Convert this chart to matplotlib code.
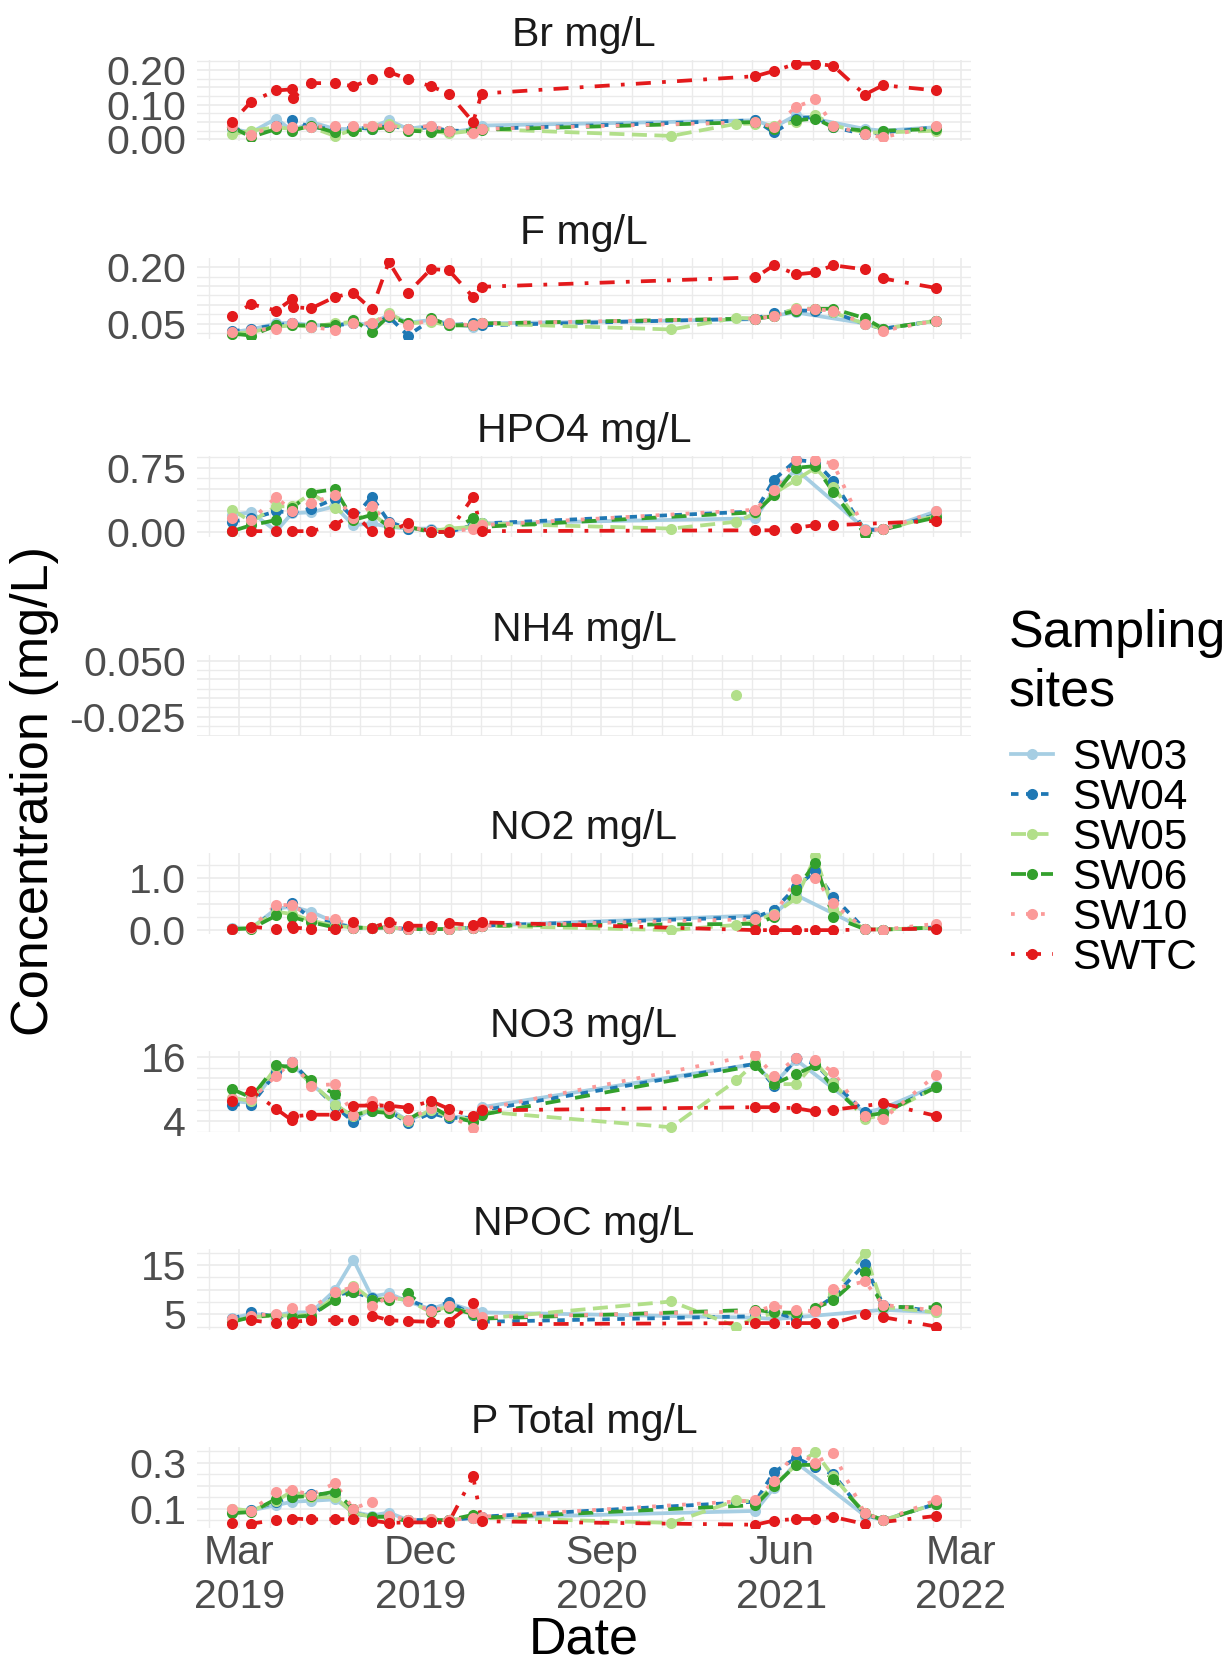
# faceted time series of surface water chemistry, one panel per analyte
import numpy as np
import pandas as pd
import matplotlib
matplotlib.use("Agg")
import matplotlib.pyplot as plt
import matplotlib.dates as mdates
from matplotlib.lines import Line2D

plt.rcParams['font.family'] = ['Liberation Sans', 'DejaVu Sans']

N = np.nan

sample_dates = ["2019-02-18", "2019-03-19", "2019-04-26", "2019-05-20", "2019-05-22",
                "2019-06-18", "2019-07-24", "2019-08-21", "2019-09-18", "2019-10-14",
                "2019-11-12", "2019-12-17", "2020-01-13", "2020-02-19", "2020-03-03",
                "2020-12-16", "2021-03-25", "2021-04-23", "2021-05-21", "2021-06-24",
                "2021-07-23", "2021-08-19", "2021-10-06", "2021-11-03", "2022-01-22"]

sites = ["SW03", "SW04", "SW05", "SW06", "SW10", "SWTC"]

# Br mg/L
br_sw03 = [0.030, 0.020, 0.060, 0.025, N, 0.050, 0.030, 0.030, 0.035, 0.055, 0.030, 0.040, 0.020, 0.030, 0.040, N, N, 0.055, 0.035, 0.070, N, N, 0.030, 0.025, 0.035]
br_sw04 = [0.035, 0.015, 0.040, 0.055, N, 0.035, 0.030, 0.035, 0.030, 0.040, 0.030, 0.035, 0.025, 0.025, 0.030, N, N, 0.055, 0.020, 0.060, 0.065, 0.035, 0.015, 0.020, 0.035]
br_sw05 = [0.015, 0.025, 0.035, 0.030, N, 0.035, 0.010, 0.028, 0.040, 0.045, 0.030, 0.025, 0.017, 0.025, 0.030, 0.010, 0.045, 0.045, 0.040, 0.050, 0.070, 0.040, 0.020, 0.020, 0.025]
br_sw06 = [0.035, 0.007, 0.030, 0.025, N, 0.040, 0.020, 0.025, 0.030, 0.035, 0.025, 0.022, 0.025, 0.025, 0.028, N, N, 0.050, 0.030, 0.055, 0.060, 0.035, 0.025, 0.025, 0.030]
br_sw10 = [0.040, 0.014, 0.040, 0.035, N, 0.035, 0.040, 0.040, 0.040, 0.040, 0.030, 0.040, 0.025, 0.017, 0.030, N, N, 0.050, 0.035, 0.094, 0.115, 0.040, 0.015, 0.006, 0.040]
br_swtc = [0.050, 0.109, 0.141, 0.144, 0.120, 0.162, 0.162, 0.153, 0.174, 0.194, 0.174, 0.153, 0.132, 0.050, 0.132, N, N, 0.182, 0.197, 0.218, 0.218, 0.212, 0.129, 0.156, 0.141]

# F mg/L
f_sw03 = [0.028, 0.035, 0.051, 0.053, N, 0.046, 0.046, 0.053, 0.046, 0.076, 0.053, 0.060, 0.051, 0.042, 0.051, N, N, 0.062, 0.072, 0.080, N, N, 0.051, 0.037, 0.058]
f_sw04 = [0.030, 0.037, 0.046, 0.051, N, 0.042, 0.046, 0.051, 0.046, 0.069, 0.019, 0.060, 0.046, 0.051, 0.046, N, N, 0.064, 0.078, 0.085, 0.085, 0.080, 0.050, 0.037, 0.058]
f_sw05 = [0.024, 0.028, 0.042, 0.046, N, 0.042, 0.051, 0.055, 0.051, 0.078, 0.051, 0.055, 0.046, 0.046, 0.051, 0.035, 0.066, 0.064, 0.070, 0.091, 0.090, 0.080, 0.050, 0.037, 0.058]
f_sw06 = [0.024, 0.019, 0.046, 0.046, N, 0.046, 0.046, 0.060, 0.028, 0.071, 0.051, 0.065, 0.046, 0.046, 0.051, N, N, 0.064, 0.070, 0.085, 0.090, 0.090, 0.065, 0.037, 0.058]
f_sw10 = [0.028, 0.033, 0.037, 0.051, N, 0.042, 0.033, 0.051, 0.051, 0.074, 0.046, 0.060, 0.051, 0.046, 0.051, N, N, 0.064, 0.070, 0.090, 0.088, 0.085, 0.050, 0.032, 0.058]
f_swtc = [0.072, 0.102, 0.085, 0.115, 0.094, 0.091, 0.121, 0.132, 0.088, 0.214, 0.132, 0.195, 0.192, 0.121, 0.148, N, N, 0.173, 0.205, 0.181, 0.186, 0.205, 0.194, 0.170, 0.145]

# HPO4 mg/L
hpo4_sw03 = [0.20, 0.23, 0.01, 0.22, N, 0.23, 0.30, 0.08, 0.10, 0.06, 0.04, 0.04, 0.01, 0.06, 0.10, N, N, 0.16, 0.49, 0.73, N, N, 0.04, 0.03, 0.24]
hpo4_sw04 = [0.12, 0.16, 0.24, 0.23, N, 0.27, 0.39, 0.16, 0.41, 0.12, 0.04, 0.02, 0.00, 0.08, 0.10, N, N, 0.24, 0.61, 0.84, 0.82, 0.60, 0.02, 0.03, 0.20]
hpo4_sw05 = [0.26, 0.12, 0.30, 0.30, N, 0.45, 0.28, 0.14, 0.22, 0.06, 0.06, 0.01, 0.04, 0.06, 0.10, 0.04, 0.12, 0.22, 0.45, 0.61, 0.75, 0.53, 0.02, 0.03, 0.19]
hpo4_sw06 = [0.01, 0.08, 0.14, 0.28, N, 0.46, 0.50, 0.14, 0.20, 0.07, 0.06, 0.00, 0.00, 0.16, 0.06, N, N, 0.23, 0.43, 0.75, 0.77, 0.47, -0.02, 0.03, 0.17]
hpo4_sw10 = [0.16, 0.14, 0.41, 0.24, N, 0.34, 0.43, 0.16, 0.30, 0.10, 0.06, 0.01, 0.00, 0.04, 0.08, N, N, 0.26, 0.49, 0.84, 0.84, 0.80, 0.02, 0.03, 0.24]
hpo4_swtc = [0.01, 0.01, 0.01, 0.01, N, 0.01, 0.08, 0.22, 0.01, 0.00, 0.10, 0.00, 0.00, 0.41, 0.01, N, N, 0.02, 0.02, 0.05, 0.08, 0.08, N, N, 0.13]

# NH4 mg/L (only one detection)
nh4_sw03 = [N, N, N, N, N, N, N, N, N, N, N, N, N, N, N, N, N, N, N, N, N, N, N, N, N]
nh4_sw04 = [N, N, N, N, N, N, N, N, N, N, N, N, N, N, N, N, N, N, N, N, N, N, N, N, N]
nh4_sw05 = [N, N, N, N, N, N, N, N, N, N, N, N, N, N, N, N, 0.004, N, N, N, N, N, N, N, N]
nh4_sw06 = [N, N, N, N, N, N, N, N, N, N, N, N, N, N, N, N, N, N, N, N, N, N, N, N, N]
nh4_sw10 = [N, N, N, N, N, N, N, N, N, N, N, N, N, N, N, N, N, N, N, N, N, N, N, N, N]
nh4_swtc = [N, N, N, N, N, N, N, N, N, N, N, N, N, N, N, N, N, N, N, N, N, N, N, N, N]

# NO2 mg/L
no2_sw03 = [0.05, 0.04, 0.41, 0.45, N, 0.35, 0.15, 0.05, 0.04, 0.05, 0.02, 0.02, 0.02, 0.05, 0.085, N, N, 0.28, 0.31, 0.67, N, N, 0.02, 0.01, 0.05]
no2_sw04 = [0.02, 0.04, 0.38, 0.51, N, 0.22, 0.12, 0.05, 0.04, 0.05, 0.02, 0.02, 0.02, 0.05, 0.085, N, N, 0.25, 0.38, 0.83, 1.13, 0.64, 0.02, 0.01, 0.05]
no2_sw05 = [0.02, 0.05, 0.35, 0.31, N, 0.18, 0.085, 0.05, 0.04, 0.05, 0.02, 0.02, 0.02, 0.05, 0.085, 0.00, 0.10, 0.18, 0.31, 0.61, 1.41, 0.40, 0.02, 0.01, 0.05]
no2_sw06 = [0.02, 0.03, 0.28, 0.25, N, 0.15, 0.05, 0.05, 0.04, 0.05, 0.02, 0.02, 0.02, 0.05, 0.085, N, N, 0.12, 0.25, 0.77, 1.29, 0.25, 0.02, 0.01, 0.05]
no2_sw10 = [0.02, 0.05, 0.48, 0.48, N, 0.25, 0.22, 0.05, 0.04, 0.05, 0.02, 0.02, 0.02, 0.05, 0.085, N, N, 0.21, 0.28, 0.97, 1.00, 0.51, 0.02, 0.01, 0.12]
no2_swtc = [0.02, 0.065, 0.02, 0.085, 0.05, 0.02, 0.02, 0.15, 0.05, 0.15, 0.085, 0.085, 0.13, 0.10, 0.15, N, N, 0.00, 0.00, 0.00, 0.00, 0.00, N, N, 0.03]

# NO3 mg/L
no3_sw03 = [7.75, 7.4, 13.4, 14.7, N, 10.9, 7.4, 4.25, 6.2, 6.3, 4.1, 6.0, 4.9, 4.6, 6.6, N, N, 14.7, 10.9, 15.4, N, N, 5.6, 6.4, 10.6]
no3_sw04 = [7.1, 7.1, 13.1, 15.0, N, 11.2, 6.8, 3.9, 5.8, 6.0, 3.6, 5.5, 4.6, 4.6, 6.0, N, N, 14.7, 10.6, 15.7, 14.7, 11.2, 5.7, 5.5, 10.4]
no3_sw05 = [8.4, 7.75, 14.1, 14.1, N, 11.2, 7.1, 4.9, 6.2, 5.8, 4.1, 6.0, 4.9, 4.25, 5.8, 2.86, 11.6, 15.0, 10.9, 10.9, 15.0, 11.2, 4.4, 5.2, 10.3]
no3_sw06 = [9.96, 8.4, 14.4, 14.1, N, 11.6, 9.0, 5.2, 5.8, 5.5, 4.25, 6.8, 4.9, 3.9, 5.2, N, N, 14.4, 10.9, 12.8, 14.4, 10.3, 5.0, 5.5, 10.3]
no3_sw10 = [8.06, 8.06, 12.5, 15.05, N, 10.6, 10.9, 5.2, 7.75, 6.3, 4.25, 6.5, 5.2, 2.66, 6.2, N, N, 16.4, 12.5, 15.8, 15.4, 13.1, 5.0, 4.4, 12.6]
no3_swtc = [7.75, 9.65, 6.29, 4.13, 4.89, 5.2, 5.2, 6.9, 6.9, 6.9, 6.5, 7.75, 6.29, 4.89, 6.0, N, N, 6.6, 6.6, 6.4, 5.8, 6.1, N, 7.3, 5.0]

# NPOC mg/L
npoc_sw03 = [4.23, 5.06, 4.74, 5.38, N, 5.38, 9.87, 16.15, 8.6, 9.23, 7.6, 6.03, 7.3, 5.7, 5.38, N, N, 4.3, 4.0, N, N, N, N, 5.9, 5.4]
npoc_sw04 = [4.1, 5.38, 4.42, 4.74, N, 4.42, 8.9, 9.55, 8.27, 8.27, 7.95, 6.15, 7.45, 4.87, 3.46, N, N, 4.6, 5.4, 4.1, 6.1, 8.5, 15.2, 6.9, 5.6]
npoc_sw05 = [3.6, 4.42, 4.74, 4.74, N, 4.87, 8.6, 10.8, 7.95, 8.27, 7.95, 5.38, 6.67, 5.06, 4.1, 7.6, 2.5, 4.3, 5.2, 5.0, 5.9, 9.1, 17.5, 6.5, 5.4]
npoc_sw06 = [3.46, 4.42, 4.87, 4.42, N, 4.74, 7.95, 9.55, 7.95, 7.95, 9.23, 5.38, 6.35, 5.06, 4.1, N, N, 5.9, 5.4, 5.3, 6.3, 7.8, 13.6, 6.5, 6.4]
npoc_sw10 = [3.97, 4.74, 5.06, 6.35, N, 6.15, 9.55, 10.5, 6.67, 8.6, 7.6, 5.7, 6.67, 5.38, 4.42, N, N, 5.6, 6.7, 5.9, 5.6, 10.1, 11.7, 6.9, 5.8]
npoc_swtc = [2.95, 3.78, 3.14, 3.14, 3.46, 3.78, 3.78, 3.78, 4.74, 3.78, 3.6, 3.46, 3.46, 7.3, 2.95, N, N, 3.2, 3.2, 3.2, 3.2, 3.2, 5.0, 4.4, 2.5]

# P Total mg/L
ptot_sw03 = [0.085, 0.092, 0.115, 0.13, N, 0.134, 0.14, 0.085, 0.07, 0.083, 0.05, 0.05, 0.05, 0.06, 0.06, N, N, 0.09, 0.19, 0.30, N, N, 0.07, 0.05, 0.12]
ptot_sw04 = [0.09, 0.092, 0.13, 0.15, N, 0.165, 0.16, 0.08, 0.065, 0.06, 0.05, 0.05, 0.05, 0.06, 0.065, N, N, 0.13, 0.258, 0.32, 0.28, 0.25, 0.075, 0.05, 0.12]
ptot_sw05 = [0.10, 0.09, 0.135, 0.174, N, 0.15, 0.15, 0.08, 0.065, 0.06, 0.05, 0.055, 0.05, 0.06, 0.06, 0.038, 0.136, 0.13, 0.20, 0.29, 0.345, 0.24, 0.08, 0.05, 0.12]
ptot_sw06 = [0.08, 0.085, 0.142, 0.15, N, 0.155, 0.174, 0.10, 0.065, 0.065, 0.045, 0.05, 0.05, 0.073, 0.06, N, N, 0.115, 0.197, 0.29, 0.29, 0.23, 0.08, 0.05, 0.12]
ptot_sw10 = [0.10, 0.09, 0.174, 0.18, N, 0.16, 0.21, 0.10, 0.13, 0.07, 0.05, 0.055, 0.05, 0.06, 0.065, N, N, 0.136, 0.22, 0.35, 0.30, 0.34, 0.08, 0.05, 0.136]
ptot_swtc = [0.038, 0.035, 0.05, 0.057, N, 0.053, 0.054, 0.054, 0.048, 0.038, 0.04, 0.04, 0.04, 0.24, 0.045, N, N, 0.03, 0.048, 0.055, 0.055, 0.064, 0.033, N, 0.068]

panel_titles = ["Br mg/L", "F mg/L", "HPO4 mg/L", "NH4 mg/L", "NO2 mg/L", "NO3 mg/L", "NPOC mg/L", "P Total mg/L"]
panel_series = [
    [br_sw03, br_sw04, br_sw05, br_sw06, br_sw10, br_swtc],
    [f_sw03, f_sw04, f_sw05, f_sw06, f_sw10, f_swtc],
    [hpo4_sw03, hpo4_sw04, hpo4_sw05, hpo4_sw06, hpo4_sw10, hpo4_swtc],
    [nh4_sw03, nh4_sw04, nh4_sw05, nh4_sw06, nh4_sw10, nh4_swtc],
    [no2_sw03, no2_sw04, no2_sw05, no2_sw06, no2_sw10, no2_swtc],
    [no3_sw03, no3_sw04, no3_sw05, no3_sw06, no3_sw10, no3_swtc],
    [npoc_sw03, npoc_sw04, npoc_sw05, npoc_sw06, npoc_sw10, npoc_swtc],
    [ptot_sw03, ptot_sw04, ptot_sw05, ptot_sw06, ptot_sw10, ptot_swtc],
]
# y breaks, labels that survived the overlap check are the non-empty ones
panel_breaks = [[0.00, 0.05, 0.10, 0.15, 0.20],
                [0.05, 0.10, 0.15, 0.20],
                [0.00, 0.25, 0.50, 0.75],
                [-0.050, -0.025, 0.000, 0.025, 0.050],
                [0.0, 0.5, 1.0],
                [4, 8, 12, 16],
                [5, 10, 15],
                [0.1, 0.2, 0.3]]
panel_labels = [["0.00", "", "0.10", "", "0.20"],
                ["0.05", "", "", "0.20"],
                ["0.00", "", "", "0.75"],
                ["", "-0.025", "", "", "0.050"],
                ["0.0", "", "1.0"],
                ["4", "", "", "16"],
                ["5", "", "15"],
                ["0.1", "", "0.3"]]
nh4_limits = (-0.050, 0.058)

x_breaks = ["2019-03-01", "2019-12-01", "2020-09-01", "2021-06-01", "2022-03-01"]
x_labels = ["Mar\n2019", "Dec\n2019", "Sep\n2020", "Jun\n2021", "Mar\n2022"]

# styles
site_colors = ["#A6CEE3", "#1F78B4", "#B2DF8A", "#33A02C", "#FB9A99", "#E31A1C"]
site_dashes = [(None, None), (2, 2), (4, 2), (4, 4), (1, 3), (1, 3, 4, 3)]
grid_col = "#EBEBEB"
tick_col = "#4D4D4D"
lw, ms = 2.7, 8

W, H = 1228, 1666
fig = plt.figure(figsize=(W / 100, H / 100), dpi=100)

xd = mdates.date2num(pd.to_datetime(sample_dates))
span = xd.max() - xd.min()
xlim = (xd.min() - 0.05 * span, xd.max() + 0.05 * span)
xb = mdates.date2num(pd.to_datetime(x_breaks))
step = (xb[1] - xb[0]) / 6.0
x_minor = np.arange(xb[0] - 2 * step, xb[-1] + 2 * step, step)
# drop minor lines that sit on a major break
x_minor = np.array([v for v in x_minor if np.min(np.abs(xb - v)) > step / 3])

left_px, right_px = 197, 971
for i in range(8):
    top = 60 + 198.2 * i
    ax = fig.add_axes([left_px / W, 1 - (top + 81) / H, (right_px - left_px) / W, 81 / H])

    for k in range(len(sites)):
        y = np.array(panel_series[i][k], dtype=float)
        m = ~np.isnan(y)
        if m.sum() > 1:
            ln, = ax.plot(xd[m], y[m], color=site_colors[k], lw=lw, zorder=2,
                          solid_capstyle='butt', dash_capstyle='butt')
            if site_dashes[k][0] is not None:
                ln.set_dashes(site_dashes[k])
    for k in range(len(sites)):
        y = np.array(panel_series[i][k], dtype=float)
        m = ~np.isnan(y)
        ax.plot(xd[m], y[m], 'o', ms=ms, color=site_colors[k], mec='none', zorder=3)

    br = np.array(panel_breaks[i], dtype=float)
    d = br[1] - br[0]
    ax.set_yticks(br)
    ax.set_yticklabels(panel_labels[i])
    ax.set_yticks(np.arange(br[0] - d / 2, br[-1] + d, d), minor=True)
    ax.set_xticks(xb)
    ax.set_xticks(x_minor, minor=True)
    if i == 7:
        ax.set_xticklabels(x_labels, linespacing=1.2)
    else:
        ax.set_xticklabels([])

    # limits after ticks, so that off-range gridlines do not widen the view
    ax.set_xlim(xlim)
    allv = np.concatenate([np.array(s, dtype=float) for s in panel_series[i]])
    allv = allv[~np.isnan(allv)]
    lo, hi = allv.min(), allv.max()
    if hi > lo:
        ax.set_ylim(lo - 0.05 * (hi - lo), hi + 0.05 * (hi - lo))
    else:
        ax.set_ylim(nh4_limits)

    ax.grid(which='major', color=grid_col, lw=1.2, zorder=0)
    ax.grid(which='minor', color=grid_col, lw=1.0, zorder=0)
    ax.set_axisbelow(True)
    for s in ax.spines.values():
        s.set_visible(False)
    ax.tick_params(which='both', length=0)
    ax.tick_params(axis='y', labelsize=29.5, labelcolor=tick_col, pad=8)
    ax.tick_params(axis='x', labelsize=29.5, labelcolor=tick_col, pad=4)

    ax.annotate(panel_titles[i], xy=(0.5, 1), xycoords='axes fraction',
                xytext=(0, 18), textcoords='offset points',
                ha='center', va='center', fontsize=29.5, color='#1A1A1A')

fig.text(35 / W, 1 - 791 / H, "Concentration (mg/L)", rotation=90,
         ha='center', va='center', fontsize=37.5)
fig.text(584 / W, 1 - 1640 / H, "Date", ha='center', va='center', fontsize=37.5)

# legend
fig.text(1009 / W, 1 - 634 / H, "Sampling", ha='left', va='center', fontsize=37.5)
fig.text(1009 / W, 1 - 692 / H, "sites", ha='left', va='center', fontsize=37.5)
handles = []
for k in range(len(sites)):
    h = Line2D([0], [0], color=site_colors[k], lw=lw, marker='o', ms=ms, mec='none')
    if site_dashes[k][0] is not None:
        h.set_dashes(site_dashes[k])
    handles.append(h)
fig.legend(handles, sites, loc='upper left', bbox_to_anchor=(1011 / W, 1 - 738 / H),
           frameon=False, fontsize=30.5, handlelength=1.0, handletextpad=0.45,
           labelspacing=0.0, borderpad=0, borderaxespad=0)

fig.savefig("out.png", dpi=100)
